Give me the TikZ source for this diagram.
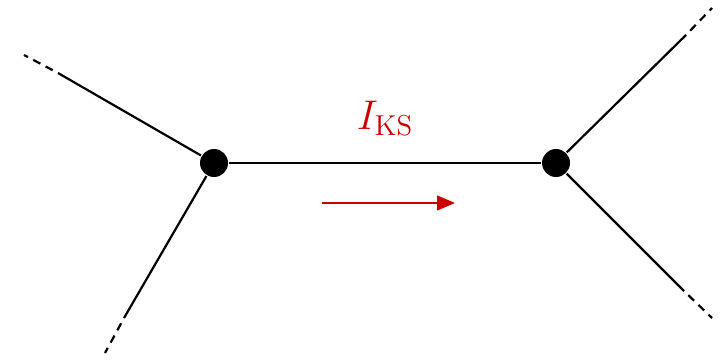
\documentclass[tikz,border=0pt]{standalone}
\usepackage{amsmath}
\usepackage{xcolor}
\usepackage{tikz}
\usetikzlibrary{positioning, arrows.meta}

\definecolor{ksred}{RGB}{204,0,0}

\begin{document}
\begin{tikzpicture}[x=0.5pt,y=0.5pt,line width=1.1pt,
    vertex/.style={circle,fill=black,inner sep=0pt,minimum size=14pt},
    stub/.style={dash pattern=on 4pt off 3pt,dash phase=4pt}]
    \useasboundingbox (0,0) rectangle (722,359);

    \node[vertex] (v1) at (214,196) {};
    \node[vertex] (v2) at (556,196) {};

    % outer legs
    \coordinate (a1) at (58,286);   \coordinate (a0) at (24,304);
    \coordinate (b1) at (124,41);   \coordinate (b0) at (105,6);
    \coordinate (c1) at (686,324);  \coordinate (c0) at (712,351);
    \coordinate (d1) at (684,68);   \coordinate (d0) at (712,41);

    \draw (v1) -- (a1);  \draw[stub] (a1) -- (a0);
    \draw (v1) -- (b1);  \draw[stub] (b1) -- (b0);
    \draw (v2) -- (c1);  \draw[stub] (c1) -- (c0);
    \draw (v2) -- (d1);  \draw[stub] (d1) -- (d0);

    \path (v1) edge (v2);

    % current
    \node[text=ksred,font=\fontsize{21}{25}\selectfont] (lbl) at (385,241) {$I_{\mathrm{KS}}$};
    \coordinate (s) at (322,156);
    \coordinate (t) at (455,156);
    \draw[ksred,line width=0.7pt,-{Triangle[length=9pt,width=7.5pt]}] (s) -- (t);
\end{tikzpicture}
\end{document}
